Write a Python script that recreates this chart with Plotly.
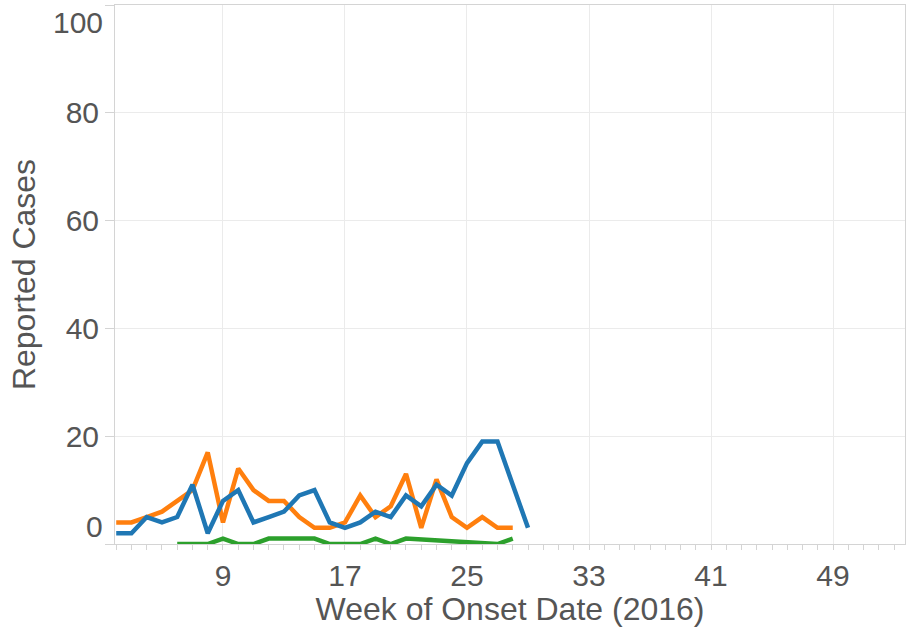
import plotly.graph_objects as go

# ---- data ----
weeks_blue = list(range(2, 30))
cases_blue = [2, 2, 5, 4, 5, 11, 2, 8, 10, 4, 5, 6, 9, 10, 4, 3, 4, 6, 5, 9, 7, 11, 9, 15, 19, 19, 11, 3]

weeks_orange = list(range(2, 29))
cases_orange = [4, 4, 5, 6, 8, 10, 17, 4, 14, 10, 8, 8, 5, 3, 3, 4, 9, 5, 7, 13, 3, 12, 5, 3, 5, 3, 3]

weeks_green = [6, 7, 8, 9, 10, 11, 12, 13, 14, 15, 16, 17, 18, 19, 20, 21, 27, 28]
cases_green = [0, 0, 0, 1, 0, 0, 1, 1, 1, 1, 0, 0, 0, 1, 0, 1, 0, 1]

y_tick_vals = [0, 20, 40, 60, 80, 100]
y_tick_text = ["", "20", "40", "60", "80", ""]
x_title = "Week of Onset Date (2016)"
y_title = "Reported Cases"

FONT = "Arial, Liberation Sans, sans-serif"
TXT = "#555555"
GRID = "#ebebeb"
AXLINE = "#d4d4d4"

fig = go.Figure()
fig.add_trace(go.Scatter(x=weeks_green, y=cases_green, mode="lines",
                         line=dict(color="#2ca02c", width=4.5), showlegend=False))
fig.add_trace(go.Scatter(x=weeks_orange, y=cases_orange, mode="lines",
                         line=dict(color="#ff7f0e", width=4.5), showlegend=False))
fig.add_trace(go.Scatter(x=weeks_blue, y=cases_blue, mode="lines",
                         line=dict(color="#1f77b4", width=4.5), showlegend=False))

fig.update_layout(
    width=913, height=627,
    margin=dict(l=115, r=8, t=5, b=83),
    paper_bgcolor="white", plot_bgcolor="white",
    font=dict(family=FONT, color=TXT, size=30),
    showlegend=False,
    xaxis=dict(
        range=[1.92, 53.72], tick0=1, dtick=8,
        showgrid=True, gridcolor=GRID, gridwidth=1,
        showline=True, linecolor=AXLINE, linewidth=1, mirror=True,
        ticks="outside", ticklen=5, tickcolor=AXLINE,
        minor=dict(dtick=1, ticks="outside", ticklen=5, tickcolor=AXLINE, showgrid=False),
        tickfont=dict(size=30, color=TXT, family=FONT),
        title=dict(text=x_title, font=dict(size=32, color=TXT, family=FONT), standoff=3),
        zeroline=False, automargin=False,
    ),
    yaxis=dict(
        range=[0, 100], tickvals=y_tick_vals, ticktext=y_tick_text,
        showgrid=True, gridcolor=GRID, gridwidth=1,
        showline=True, linecolor=AXLINE, linewidth=1, mirror=True,
        ticks="outside", ticklen=9, tickcolor=AXLINE,
        tickfont=dict(size=30, color=TXT, family=FONT),
        title=dict(text=y_title, font=dict(size=32, color=TXT, family=FONT), standoff=20),
        zeroline=False, automargin=False,
    ),
    annotations=[
        dict(x=0, xref="paper", y=0, yref="y", text="0", showarrow=False,
             xanchor="right", yanchor="middle", xshift=-10, yshift=18,
             font=dict(size=30, color=TXT, family=FONT)),
        dict(x=0, xref="paper", y=100, yref="y", text="100", showarrow=False,
             xanchor="right", yanchor="middle", xshift=-10, yshift=-17,
             font=dict(size=30, color=TXT, family=FONT)),
    ],
)

fig.write_html("out.html", config={"displayModeBar": False},
               post_script="document.body.style.margin='0';document.body.style.overflow='hidden';")
